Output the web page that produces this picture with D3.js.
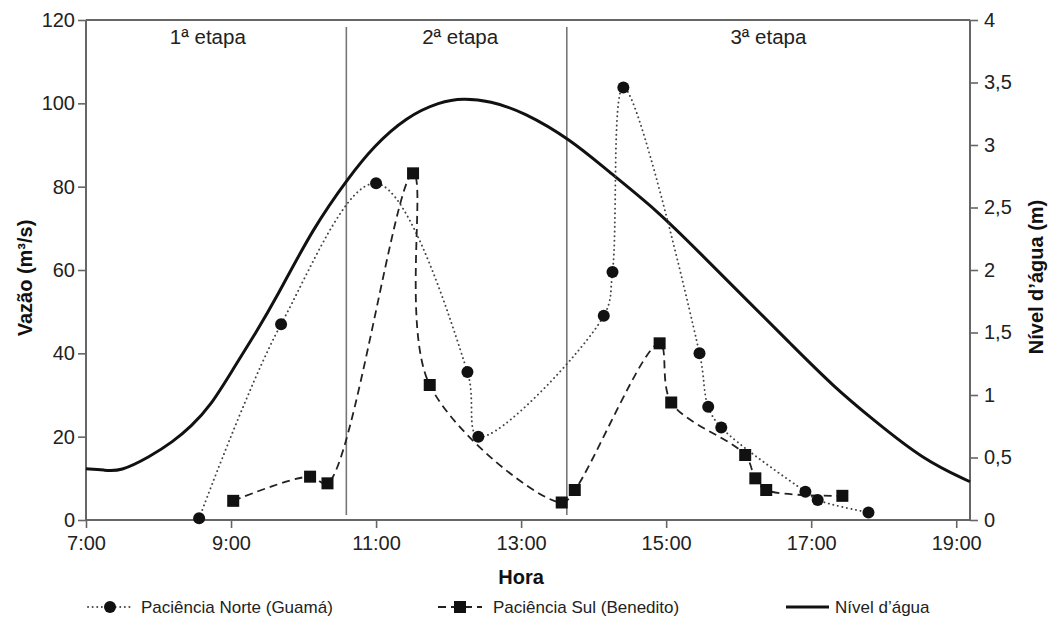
<!DOCTYPE html>
<html>
<head>
<meta charset="utf-8">
<script src="https://cdn.jsdelivr.net/npm/d3@7/dist/d3.min.js"></script>
<style>
  html, body { margin: 0; padding: 0; background: #fff; }
  svg { display: block; font-family: "Liberation Sans", Arial, Helvetica, sans-serif; }
</style>
</head>
<body>
<svg id="chart" width="1051" height="620"></svg>
<script>
// ---- data (time in decimal hours) ----
const norteTime  = [8.56, 9.69, 11.00, 12.26, 12.41, 14.14, 14.26, 14.41, 15.46, 15.58, 15.76, 16.92, 17.09, 17.79];
const norteVazao = [0.4, 47, 80.8, 35.5, 20, 49, 59.5, 103.8, 40, 27.2, 22.2, 6.8, 4.8, 1.8];

const sulTime  = [9.03, 10.09, 10.33, 11.51, 11.74, 13.56, 13.74, 14.91, 15.07, 16.09, 16.23, 16.38, 17.43];
const sulVazao = [4.6, 10.4, 8.8, 83.2, 32.4, 4.2, 7.2, 42.4, 28.2, 15.6, 10.0, 7.2, 5.8];

const nivelTime  = [7.00, 7.25, 7.47, 7.88, 8.20, 8.45, 8.71, 9.03, 9.35, 9.61, 10.14, 10.63, 10.96, 11.42, 11.88, 12.20, 12.57, 13.03, 13.69, 14.18, 14.87, 15.47, 16.11, 16.71, 17.31, 17.86, 18.55, 19.19];
const nivelAgua  = [0.41, 0.40, 0.386, 0.506, 0.626, 0.75, 0.906, 1.208, 1.506, 1.76, 2.346, 2.746, 2.986, 3.226, 3.346, 3.374, 3.352, 3.266, 3.04, 2.80, 2.48, 2.134, 1.76, 1.414, 1.066, 0.80, 0.48, 0.306];

const stageBounds = [10.59, 13.63];
const stageLabels = ["1ª etapa", "2ª etapa", "3ª etapa"];
const stageCenters = [8.68, 12.16, 16.41];

const xTickValues = [7, 9, 11, 13, 15, 17, 19];
const xTickLabels = ["7:00", "9:00", "11:00", "13:00", "15:00", "17:00", "19:00"];
const yLeftTicks  = [0, 20, 40, 60, 80, 100, 120];
const yRightTicks = [0, 0.5, 1, 1.5, 2, 2.5, 3, 3.5, 4];
const yRightLabels = ["0", "0,5", "1", "1,5", "2", "2,5", "3", "3,5", "4"];

const seriesNames = ["Paciência Norte (Guamá)", "Paciência Sul (Benedito)", "Nível d’água"];

// ---- layout ----
const svg = d3.select("#chart");
const L = 86, R = 970, T = 20, B = 520;
const axisColor = "#666";

const x = d3.scaleLinear().domain([7, 19.19]).range([L, R]);
const yL = d3.scaleLinear().domain([0, 120]).range([B, T]);
const yR = d3.scaleLinear().domain([0, 4]).range([B, T]);

// frame top line
svg.append("line").attr("x1", L).attr("x2", R).attr("y1", T).attr("y2", T)
  .attr("stroke", axisColor).attr("stroke-width", 2);

// axes
const gx = svg.append("g").attr("transform", `translate(0,${B})`)
  .call(d3.axisBottom(x).tickValues(xTickValues).tickFormat((d, i) => xTickLabels[i]).tickSizeOuter(0).tickSize(8).tickPadding(8));
const gl = svg.append("g").attr("transform", `translate(${L},0)`)
  .call(d3.axisLeft(yL).tickValues(yLeftTicks).tickSizeOuter(0).tickSize(8).tickPadding(3));
const gr = svg.append("g").attr("transform", `translate(${R},0)`)
  .call(d3.axisRight(yR).tickValues(yRightTicks).tickFormat((d, i) => yRightLabels[i]).tickSizeOuter(0).tickSize(8).tickPadding(6));

[gx, gl, gr].forEach(g => {
  g.selectAll("path.domain").attr("stroke", axisColor).attr("stroke-width", 2);
  g.selectAll(".tick line").attr("stroke", axisColor).attr("stroke-width", 1.6);
  g.selectAll(".tick text").attr("fill", "#222").style("font-size", "20px")
    .style("font-family", "'Liberation Sans', Arial, sans-serif");
});
gx.select("path.domain").attr("d", `M${L},0H${R}`);
gl.select("path.domain").attr("d", `M0,${T}V${B}`);
gr.select("path.domain").attr("d", `M0,${T}V${B}`);

// stage dividers
svg.selectAll("line.stage").data(stageBounds).enter().append("line")
  .attr("class", "stage")
  .attr("x1", d => x(d)).attr("x2", d => x(d))
  .attr("y1", 27).attr("y2", 515)
  .attr("stroke", "#777").attr("stroke-width", 1.6);

svg.selectAll("text.stage").data(stageLabels).enter().append("text")
  .attr("class", "stage")
  .attr("x", (d, i) => x(stageCenters[i])).attr("y", 44)
  .attr("text-anchor", "middle").attr("fill", "#222").style("font-size", "20.5px")
  .text(d => d);

// lines
const water = nivelTime.map((t, i) => [t, nivelAgua[i]]);
const norte = norteTime.map((t, i) => [t, norteVazao[i]]);
const sul = sulTime.map((t, i) => [t, sulVazao[i]]);

svg.append("path").datum(water)
  .attr("d", d3.line().x(d => x(d[0])).y(d => yR(d[1])).curve(d3.curveBasis))
  .attr("fill", "none").attr("stroke", "#111").attr("stroke-width", 3);

svg.append("path").datum(norte)
  .attr("d", d3.line().x(d => x(d[0])).y(d => yL(d[1])).curve(d3.curveCatmullRom.alpha(0.5)))
  .attr("fill", "none").attr("stroke", "#444").attr("stroke-width", 1.9)
  .attr("stroke-dasharray", "0.1,4.5").attr("stroke-linecap", "round");

svg.append("path").datum(sul)
  .attr("d", d3.line().x(d => x(d[0])).y(d => yL(d[1])).curve(d3.curveCatmullRom.alpha(0.5)))
  .attr("fill", "none").attr("stroke", "#222").attr("stroke-width", 1.8)
  .attr("stroke-dasharray", "8,5");

// markers
svg.selectAll("circle.norte").data(norte).enter().append("circle")
  .attr("class", "norte")
  .attr("cx", d => x(d[0])).attr("cy", d => yL(d[1])).attr("r", 6)
  .attr("fill", "#111");

const sq = 12;
svg.selectAll("rect.sul").data(sul).enter().append("rect")
  .attr("class", "sul")
  .attr("x", d => x(d[0]) - sq / 2).attr("y", d => yL(d[1]) - sq / 2)
  .attr("width", sq).attr("height", sq)
  .attr("fill", "#111");

// axis titles
svg.append("text").attr("transform", `translate(32,${(T + B) / 2 + 8}) rotate(-90)`)
  .attr("text-anchor", "middle").style("font-size", "20px").style("font-weight", "bold").attr("fill", "#111")
  .text("Vazão (m³/s)");
svg.append("text").attr("transform", `translate(1043,${(T + B) / 2 + 7}) rotate(-90)`)
  .attr("text-anchor", "middle").style("font-size", "20px").style("font-weight", "bold").attr("fill", "#111")
  .text("Nível d’água (m)");
svg.append("text").attr("x", x(13)).attr("y", 584)
  .attr("text-anchor", "middle").style("font-size", "20px").style("font-weight", "bold").attr("fill", "#111")
  .text("Hora");

// legend
const ly = 607;
const lg = svg.append("g");
// Norte
lg.append("line").attr("x1", 88).attr("x2", 131).attr("y1", ly).attr("y2", ly)
  .attr("stroke", "#444").attr("stroke-width", 1.9).attr("stroke-dasharray", "0.1,4.5").attr("stroke-linecap", "round");
lg.append("circle").attr("cx", 110).attr("cy", ly).attr("r", 6).attr("fill", "#111");
lg.append("text").attr("x", 141).attr("y", ly + 6).style("font-size", "17px").attr("fill", "#222").text(seriesNames[0]);
// Sul
lg.append("line").attr("x1", 438).attr("x2", 482).attr("y1", ly).attr("y2", ly)
  .attr("stroke", "#222").attr("stroke-width", 1.8).attr("stroke-dasharray", "8,5");
lg.append("rect").attr("x", 460 - sq / 2).attr("y", ly - sq / 2).attr("width", sq).attr("height", sq).attr("fill", "#111");
lg.append("text").attr("x", 493).attr("y", ly + 6).style("font-size", "17px").attr("fill", "#222").text(seriesNames[1]);
// Nível
lg.append("line").attr("x1", 786).attr("x2", 829).attr("y1", ly).attr("y2", ly)
  .attr("stroke", "#111").attr("stroke-width", 3);
lg.append("text").attr("x", 835).attr("y", ly + 6).style("font-size", "17px").attr("fill", "#222").text(seriesNames[2]);
</script>
</body>
</html>
